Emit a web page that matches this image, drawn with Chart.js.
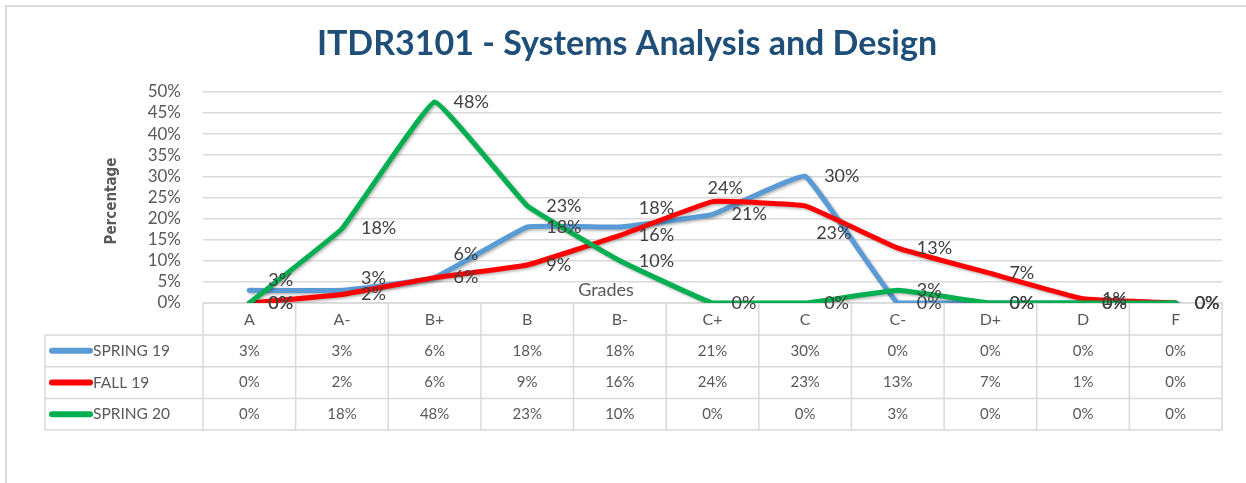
<!DOCTYPE html>
<html>
<head>
<meta charset="utf-8">
<script src="https://cdn.jsdelivr.net/npm/chart.js@4"></script>
<style>
  body { margin: 0; background: #fff; }
  #wrap { width: 1246px; height: 483px; }
</style>
</head>
<body>
<div id="wrap"><canvas id="gradesChart" width="1246" height="483"></canvas></div>
<script>
const grades = ['A', 'A-', 'B+', 'B', 'B-', 'C+', 'C', 'C-', 'D+', 'D', 'F'];
const spring19 = [3, 3, 6, 18, 18, 21, 30, 0, 0, 0, 0];
const fall19 = [0, 2, 6, 9, 16, 24, 23, 13, 7, 1, 0];
const spring20 = [0, 17.6, 47.6, 23, 10, 0, 0, 3, 0, 0, 0];
const seriesNames = ['SPRING 19', 'FALL 19', 'SPRING 20'];
const yTicks = [0, 5, 10, 15, 20, 25, 30, 35, 40, 45, 50];

const colors = ['#5B9BD5', '#FF0000', '#00B050'];
const font = 'Lato, Calibri, sans-serif';
const textGray = '#595959';
const gridGray = '#D9D9D9';

// small nudges for labels that Excel moved off the default "right" spot
const labelNudge = {
  '0:0': [0, -10], '0:1': [0, -12], '0:2': [0, -23], '0:4': [0, -19],
  '1:5': [-24, -13], '1:6': [-8, 27]
};

const framePlugin = {
  id: 'frame',
  beforeDraw(chart) {
    const ctx = chart.ctx;
    ctx.save();
    ctx.fillStyle = '#fff';
    ctx.fillRect(0, 0, chart.width, chart.height);
    ctx.strokeStyle = gridGray;
    ctx.lineWidth = 2;
    ctx.beginPath();
    ctx.moveTo(6, chart.height);
    ctx.lineTo(6, 6);
    ctx.lineTo(chart.width, 6);
    ctx.stroke();
    // y axis title
    ctx.fillStyle = textGray;
    ctx.font = 'bold 15px "DejaVu Sans Condensed", sans-serif';
    ctx.textAlign = 'center';
    ctx.textBaseline = 'middle';
    ctx.translate(112, 201);
    ctx.rotate(-Math.PI / 2);
    ctx.fillText('Percentage', 0, 0);
    ctx.restore();
  }
};

const tablePlugin = {
  id: 'dataTable',
  beforeDatasetsDraw(chart) {
    const ctx = chart.ctx;
    const x = chart.scales.x;
    const area = chart.chartArea;
    const rowH = 31.7;
    const head = area.bottom + 32;
    const rows = [spring19, fall19, spring20];
    const bottom = head + rowH * rows.length;
    const edges = [];
    for (let i = 0; i <= grades.length; i++) {
      edges.push(area.left + (area.right - area.left) * i / grades.length);
    }
    ctx.save();
    ctx.strokeStyle = gridGray;
    ctx.lineWidth = 1.5;
    ctx.beginPath();
    ctx.moveTo(area.left, area.bottom); ctx.lineTo(area.right, area.bottom);
    for (let r = 0; r <= rows.length; r++) {
      const y = head + rowH * r;
      ctx.moveTo(45, y); ctx.lineTo(area.right, y);
    }
    ctx.moveTo(45, head); ctx.lineTo(45, bottom);
    edges.forEach(e => { ctx.moveTo(e, area.bottom); ctx.lineTo(e, bottom); });
    ctx.stroke();

    ctx.textBaseline = 'middle';
    rows.forEach((vals, r) => {
      const cy = head + rowH * (r + 0.5);
      ctx.strokeStyle = colors[r];
      ctx.lineWidth = 6;
      ctx.lineCap = 'round';
      ctx.beginPath();
      ctx.moveTo(52, cy); ctx.lineTo(90, cy);
      ctx.stroke();
      ctx.fillStyle = textGray;
      ctx.textAlign = 'left';
      ctx.font = '15.5px ' + font;
      ctx.fillText(seriesNames[r], 93, cy);
      ctx.textAlign = 'center';
      ctx.font = '15px ' + font;
      vals.forEach((v, i) => ctx.fillText(Math.round(v) + '%', x.getPixelForValue(i), cy));
    });

    ctx.font = '18px ' + font;
    ctx.fillStyle = textGray;
    ctx.textAlign = 'center';
    ctx.fillText('Grades', 606, area.bottom - 13);
    ctx.restore();
  },
  beforeDatasetDraw(chart) {
    const ctx = chart.ctx;
    ctx.save();
    ctx.shadowColor = 'rgba(0,0,0,0.3)';
    ctx.shadowBlur = 3;
    ctx.shadowOffsetX = 1.5;
    ctx.shadowOffsetY = 1.5;
  },
  afterDatasetDraw(chart) {
    chart.ctx.restore();
  },
  afterDatasetsDraw(chart) {
    const ctx = chart.ctx;
    ctx.save();
    ctx.font = '18px ' + font;
    ctx.fillStyle = '#404040';
    ctx.textAlign = 'left';
    ctx.textBaseline = 'middle';
    [0, 1, 2].forEach(d => {
      const meta = chart.getDatasetMeta(d);
      meta.data.forEach((pt, i) => {
        const n = labelNudge[d + ':' + i] || [0, 0];
        const v = chart.data.datasets[d].data[i];
        ctx.fillText(Math.round(v) + '%', pt.x + 19 + n[0], pt.y + n[1]);
      });
    });
    ctx.restore();
  }
};

const ctx = document.getElementById('gradesChart').getContext('2d');
const chart = new Chart(ctx, {
  type: 'line',
  data: {
    labels: grades,
    datasets: [
      { label: seriesNames[0], data: spring19, borderColor: colors[0], order: 2 },
      { label: seriesNames[1], data: fall19, borderColor: colors[1], order: 1 },
      { label: seriesNames[2], data: spring20, borderColor: colors[2], order: 0 }
    ]
  },
  options: {
    responsive: false,
    animation: false,
    devicePixelRatio: 1,
    layout: { padding: { left: 32, right: 24, top: 0, bottom: 0 } },
    elements: {
      line: { borderWidth: 5, tension: 0.08, borderJoinStyle: 'round', borderCapStyle: 'round' },
      point: { radius: 0, hoverRadius: 0 }
    },
    plugins: {
      legend: { display: false },
      tooltip: { enabled: false },
      title: {
        display: true,
        text: 'ITDR3101 - Systems Analysis and Design',
        color: '#1F4E79',
        font: { family: font, size: 34, weight: 'bold' },
        padding: { top: 24, bottom: 27 }
      }
    },
    scales: {
      x: {
        offset: true,
        grid: { display: false, drawTicks: false },
        border: { display: false },
        ticks: { color: textGray, font: { family: font, size: 16 }, padding: 7, maxRotation: 0, autoSkip: false },
        afterFit(s) { s.height = 180; }
      },
      y: {
        min: 0,
        max: 50,
        afterBuildTicks(s) { s.ticks = yTicks.map(v => ({ value: v })); },
        grid: { color: gridGray, lineWidth: 1.5, drawTicks: false },
        border: { display: false },
        ticks: {
          color: textGray,
          font: { family: font, size: 17 },
          padding: 22,
          autoSkip: false,
          callback: v => v + '%'
        },
        afterFit(s) { s.width = 171; }
      }
    }
  },
  plugins: [framePlugin, tablePlugin]
});
</script>
</body>
</html>
